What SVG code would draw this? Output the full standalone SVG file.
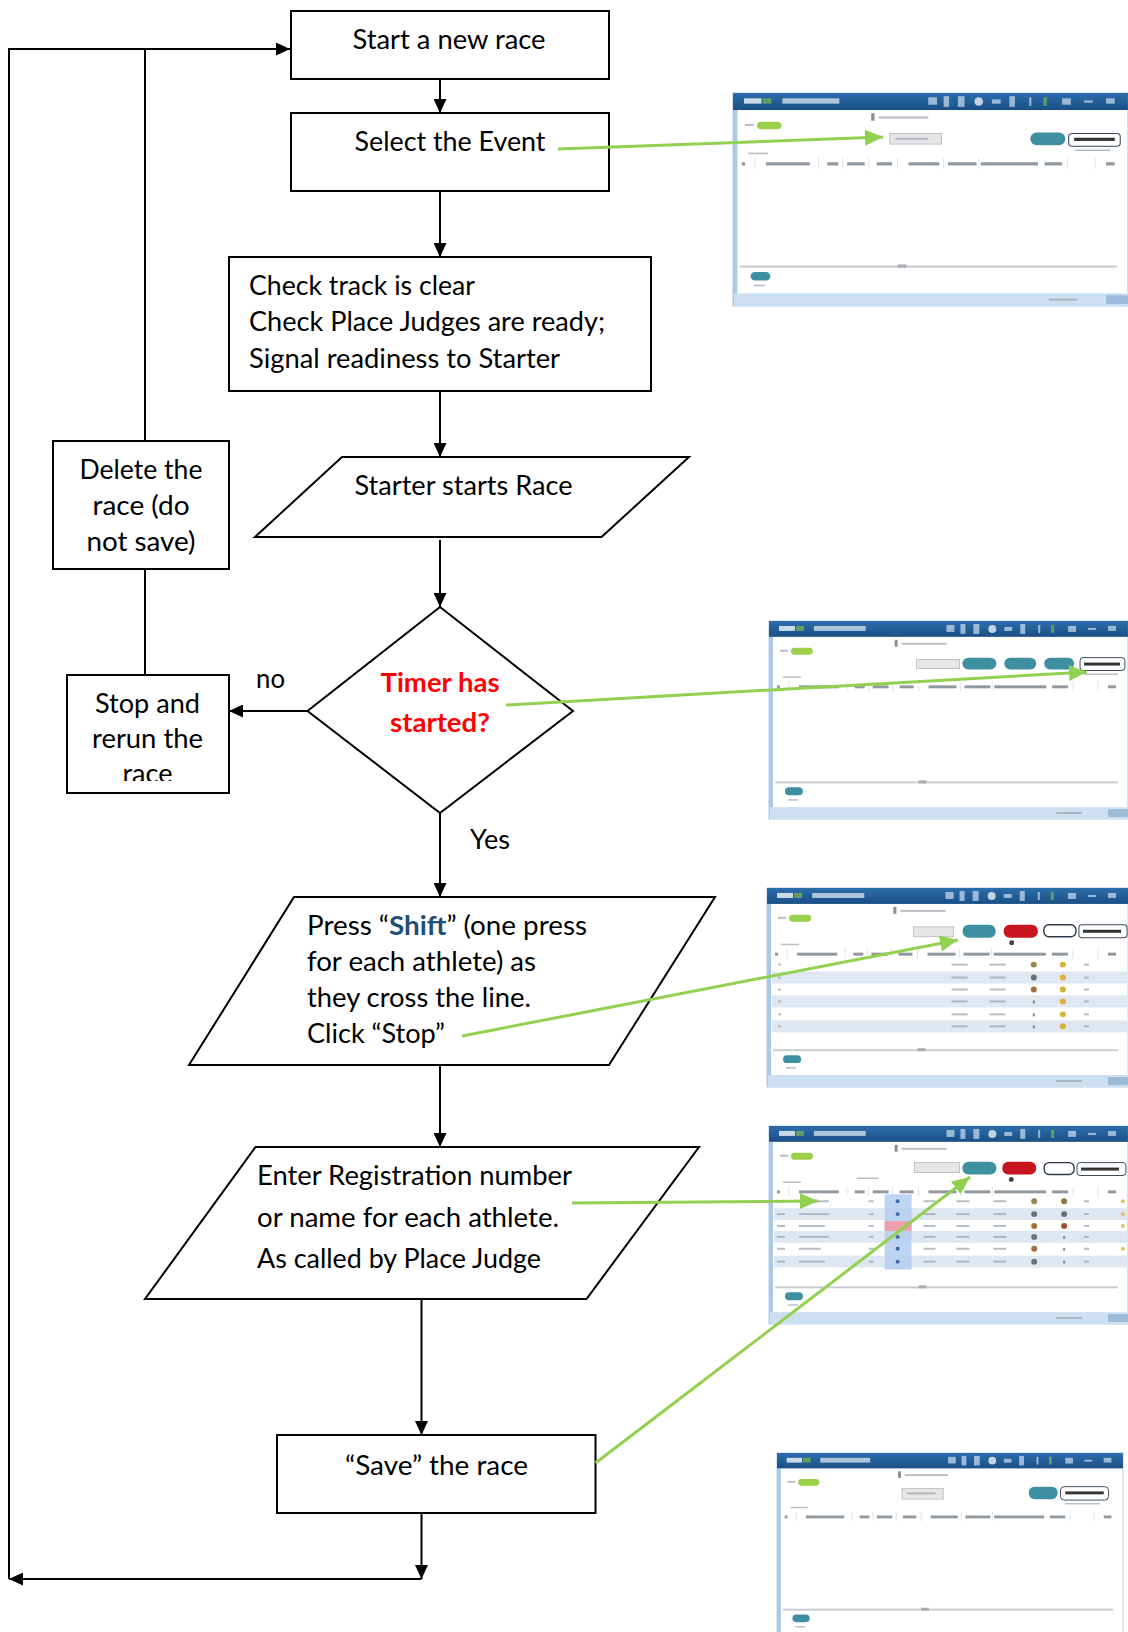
<svg xmlns="http://www.w3.org/2000/svg" width="1128" height="1632" viewBox="0 0 1128 1632">
<defs>
<style>
.t{font-family:Lato,"Liberation Sans",sans-serif;font-size:26px;fill:#000}
.c{text-anchor:middle}
.box{fill:#fff;stroke:#000;stroke-width:2}
.ln{fill:none;stroke:#000;stroke-width:2}
.gl{fill:none;stroke:#92d050;stroke-width:3}
.win{fill:#fff;stroke:#b8cfe6;stroke-width:1}
.strip{fill:#a9c9ea}
.tb{fill:url(#tbg)}
.tbl{fill:#dbe7f4;opacity:.75}
.ico{fill:#cfe0f2;opacity:.7}
.pill{fill:#9bd04b}
.blob{fill:#9aa3ad;opacity:.7}
.hb{fill:#6b7580;opacity:.75}
.dd{fill:#e6e6e6;stroke:#b9b9b9;stroke-width:.8}
.btn{fill:#3f8fa2}
.btnr{fill:#c8141c}
.btno{fill:#fff;stroke:#2d3a48;stroke-width:1.4}
.tim{fill:#fff;stroke:#3b4a5a;stroke-width:1}
.row{fill:#dfe7f3}
.sep{stroke:#d8dde3;stroke-width:.8}
.scr{fill:#c9cdd2}
.stat{fill:#cde0f2}
</style>
<linearGradient id="tbg" x1="0" y1="0" x2="0" y2="1">
<stop offset="0" stop-color="#2c6eab"/>
<stop offset="1" stop-color="#1a4f86"/>
</linearGradient>
<marker id="ab" markerUnits="userSpaceOnUse" markerWidth="15" markerHeight="13" refX="14" refY="6.5" orient="auto">
<path d="M0,0 L14,6.5 L0,13 z" fill="#000"/>
</marker>
<marker id="ag" markerUnits="userSpaceOnUse" markerWidth="19" markerHeight="16" refX="18" refY="8" orient="auto">
<path d="M0,0 L18,8 L0,16 z" fill="#92d050"/>
</marker>
<clipPath id="stopclip"><rect x="67" y="675" width="162" height="106"/></clipPath>
<g id="wbase">
<rect class="win" x="0" y="0" width="360" height="200"/>
<rect class="strip" x="0" y="16" width="4" height="184"/>
<rect class="tb" x="0" y="0" width="360" height="16"/>
<rect x="10" y="5" width="16" height="5" fill="#e8f0f8" opacity=".85"/>
<rect x="27" y="5" width="8" height="5" fill="#8dc63f" opacity=".6"/>
<rect class="tbl" x="45" y="5" width="52" height="5"/>
<rect class="ico" x="178" y="4" width="8" height="7"/>
<rect class="ico" x="192" y="3" width="5" height="10"/>
<rect class="ico" x="205" y="3" width="6" height="10"/>
<circle cx="224" cy="8" r="4" fill="#e8f0f8" opacity=".8"/>
<rect class="ico" x="236" y="6" width="8" height="4"/>
<rect class="ico" x="252" y="3" width="5" height="10"/>
<rect class="ico" x="270" y="4" width="2" height="8"/>
<rect x="283" y="4" width="3" height="8" fill="#8dc63f" opacity=".6"/>
<rect class="ico" x="300" y="5" width="8" height="6"/>
<rect class="ico" x="320" y="7" width="8" height="2"/>
<rect class="ico" x="340" y="5" width="8" height="5"/>
<rect class="blob" x="11" y="29" width="8" height="2"/>
<rect class="pill" x="22" y="27" width="22" height="7" rx="3.5"/>
<rect x="126" y="19" width="3" height="7" fill="#8a8f96"/>
<rect class="blob" x="133" y="22" width="45" height="2"/>
<rect class="blob" x="14" y="56" width="18" height="1.5"/>
<rect class="hb" x="8" y="65" width="3" height="3"/>
<rect class="hb" x="30" y="65" width="40" height="3"/>
<rect class="hb" x="86" y="65" width="10" height="3"/>
<rect class="hb" x="104" y="65" width="16" height="3"/>
<rect class="hb" x="131" y="65" width="14" height="3"/>
<rect class="hb" x="160" y="65" width="28" height="3"/>
<rect class="hb" x="196" y="65" width="26" height="3"/>
<rect class="hb" x="226" y="65" width="52" height="3"/>
<rect class="hb" x="284" y="65" width="16" height="3"/>
<rect class="hb" x="340" y="65" width="8" height="3"/>
<line class="sep" x1="20" y1="61" x2="20" y2="71"/>
<line class="sep" x1="78" y1="61" x2="78" y2="71"/>
<line class="sep" x1="100" y1="61" x2="100" y2="71"/>
<line class="sep" x1="124" y1="61" x2="124" y2="71"/>
<line class="sep" x1="150" y1="61" x2="150" y2="71"/>
<line class="sep" x1="192" y1="61" x2="192" y2="71"/>
<line class="sep" x1="224" y1="61" x2="224" y2="71"/>
<line class="sep" x1="305" y1="61" x2="305" y2="71"/>
<line class="sep" x1="330" y1="61" x2="330" y2="71"/>
<rect class="scr" x="6" y="162" width="344" height="2"/>
<rect x="150" y="161" width="8" height="3" fill="#a8adb3"/>
<rect class="btn" x="16" y="168" width="18" height="8" rx="4"/>
<rect class="blob" x="19" y="180" width="10" height="1.5"/>
<rect class="stat" x="1" y="188" width="358" height="12"/>
<rect class="blob" x="288" y="193" width="26" height="2"/>
<rect x="340" y="190" width="20" height="8" fill="#9bbbd8"/>
</g>
</defs>

<g id="shot1" transform="translate(733,93) scale(1.097,1.065)">
<use href="#wbase"/>
<rect class="dd" x="143" y="38" width="47" height="10"/>
<rect class="blob" x="148" y="42" width="30" height="2"/>
<rect class="btn" x="271" y="37" width="32" height="12" rx="6"/>
<rect class="tim" x="306" y="38" width="47" height="12" rx="3"/>
<rect fill="#333" x="311" y="42" width="37" height="3"/>
<rect class="blob" x="312" y="53" width="32" height="1.5"/>
</g>

<g id="shot2" transform="translate(769,621) scale(0.997,0.99)">
<use href="#wbase"/>
<rect class="dd" x="148" y="39" width="43" height="9"/>
<rect class="btn" x="194" y="37" width="34" height="12" rx="6"/>
<rect class="btn" x="236" y="37" width="32" height="12" rx="6"/>
<rect class="btn" x="276" y="37" width="30" height="12" rx="6"/>
<rect class="tim" x="312" y="37" width="45" height="13" rx="3"/>
<rect fill="#333" x="316" y="42" width="36" height="3"/>
<rect class="blob" x="316" y="53" width="34" height="1.5"/>
</g>

<g id="shot3" transform="translate(767,888) scale(1.003,0.995)">
<use href="#wbase"/>
<rect class="dd" x="146" y="39" width="40" height="10"/>
<rect class="btn" x="195" y="37" width="33" height="13" rx="6"/>
<rect class="btnr" x="236" y="37" width="34" height="13" rx="6"/>
<rect class="btno" x="276" y="37" width="32" height="12" rx="5"/>
<rect class="tim" x="311" y="37" width="48" height="13" rx="3"/>
<rect fill="#333" x="315" y="42" width="38" height="3"/>
<circle cx="244" cy="55" r="2.5" fill="#444"/>
<rect class="row" x="5" y="84" width="354" height="12"/>
<rect class="row" x="5" y="108" width="354" height="12"/>
<rect class="row" x="5" y="133" width="354" height="12"/>
<g class="blob">
<rect x="11" y="76" width="3" height="2"/><rect x="11" y="89" width="3" height="2"/><rect x="11" y="101" width="3" height="2"/><rect x="11" y="113" width="3" height="2"/><rect x="11" y="126" width="3" height="2"/><rect x="11" y="138" width="3" height="2"/>
<rect x="184" y="76" width="16" height="2"/><rect x="184" y="89" width="16" height="2"/><rect x="184" y="101" width="16" height="2"/><rect x="184" y="113" width="16" height="2"/><rect x="184" y="126" width="16" height="2"/><rect x="184" y="138" width="16" height="2"/>
<rect x="222" y="76" width="16" height="2"/><rect x="222" y="89" width="16" height="2"/><rect x="222" y="101" width="16" height="2"/><rect x="222" y="113" width="16" height="2"/><rect x="222" y="126" width="16" height="2"/><rect x="222" y="138" width="16" height="2"/>
<rect x="316" y="76" width="5" height="2"/><rect x="316" y="89" width="5" height="2"/><rect x="316" y="101" width="5" height="2"/><rect x="316" y="113" width="5" height="2"/><rect x="316" y="126" width="5" height="2"/><rect x="316" y="138" width="5" height="2"/>
</g>
<circle cx="266" cy="77" r="3" fill="#9b8648"/><circle cx="266" cy="90" r="3" fill="#6f6f6f"/><circle cx="266" cy="102" r="3" fill="#a0703a"/>
<rect x="265" y="113" width="2" height="3" fill="#888"/><rect x="265" y="126" width="2" height="3" fill="#888"/><rect x="265" y="138" width="2" height="3" fill="#888"/>
<circle cx="295" cy="77" r="3" fill="#d6b13a"/><circle cx="295" cy="90" r="3" fill="#d6b13a"/><circle cx="295" cy="102" r="3" fill="#d6b13a"/><circle cx="295" cy="114" r="3" fill="#d6b13a"/><circle cx="295" cy="127" r="3" fill="#d6b13a"/><circle cx="295" cy="139" r="3" fill="#d6b13a"/>
</g>

<g id="shot4" transform="translate(769,1126) scale(0.997,0.99)">
<use href="#wbase"/>
<rect class="dd" x="146" y="37" width="45" height="10"/>
<rect class="btn" x="194" y="36" width="34" height="13" rx="6"/>
<rect class="btnr" x="234" y="36" width="34" height="13" rx="6"/>
<rect class="btno" x="276" y="37" width="30" height="12" rx="5"/>
<rect class="tim" x="309" y="37" width="49" height="13" rx="3"/>
<rect fill="#333" x="313" y="42" width="38" height="3"/>
<circle cx="243" cy="54" r="2.5" fill="#444"/>
<rect class="blob" x="88" y="52" width="22" height="1.5"/>
<rect class="row" x="5" y="83" width="354" height="12"/>
<rect class="row" x="5" y="106" width="354" height="12"/>
<rect class="row" x="5" y="131" width="354" height="12"/>
<rect x="116" y="69" width="27" height="76" fill="#b4cdee" opacity=".85"/>
<rect x="116" y="96" width="27" height="10" fill="#f0a0a8"/>
<g class="blob">
<rect x="8" y="75" width="8" height="2"/><rect x="8" y="88" width="8" height="2"/><rect x="8" y="100" width="8" height="2"/><rect x="8" y="111" width="8" height="2"/><rect x="8" y="123" width="8" height="2"/><rect x="8" y="136" width="8" height="2"/>
<rect x="30" y="75" width="30" height="2"/><rect x="30" y="88" width="30" height="2"/><rect x="30" y="100" width="26" height="2"/><rect x="30" y="111" width="30" height="2"/><rect x="30" y="123" width="22" height="2"/><rect x="30" y="136" width="26" height="2"/>
<rect x="100" y="75" width="5" height="2"/><rect x="100" y="88" width="5" height="2"/><rect x="100" y="100" width="5" height="2"/><rect x="100" y="111" width="5" height="2"/><rect x="100" y="123" width="5" height="2"/><rect x="100" y="136" width="5" height="2"/>
<rect x="155" y="75" width="12" height="2"/><rect x="155" y="88" width="12" height="2"/><rect x="155" y="100" width="12" height="2"/><rect x="155" y="111" width="12" height="2"/><rect x="155" y="123" width="12" height="2"/><rect x="155" y="136" width="12" height="2"/>
<rect x="188" y="75" width="13" height="2"/><rect x="188" y="88" width="13" height="2"/><rect x="188" y="100" width="13" height="2"/><rect x="188" y="111" width="13" height="2"/><rect x="188" y="123" width="13" height="2"/><rect x="188" y="136" width="13" height="2"/>
<rect x="225" y="75" width="13" height="2"/><rect x="225" y="88" width="13" height="2"/><rect x="225" y="100" width="13" height="2"/><rect x="225" y="111" width="13" height="2"/><rect x="225" y="123" width="13" height="2"/><rect x="225" y="136" width="13" height="2"/>
<rect x="316" y="75" width="5" height="2"/><rect x="316" y="88" width="5" height="2"/><rect x="316" y="100" width="5" height="2"/><rect x="316" y="111" width="5" height="2"/><rect x="316" y="123" width="5" height="2"/><rect x="316" y="136" width="5" height="2"/>
</g>
<circle cx="129" cy="76" r="2" fill="#3b66a8"/><circle cx="129" cy="89" r="2" fill="#3b66a8"/><circle cx="129" cy="112" r="2" fill="#3b66a8"/><circle cx="129" cy="124" r="2" fill="#3b66a8"/><circle cx="129" cy="137" r="2" fill="#3b66a8"/>
<circle cx="266" cy="76" r="3" fill="#9b8648"/><circle cx="266" cy="89" r="3" fill="#6f6f6f"/><circle cx="266" cy="101" r="3" fill="#a0703a"/><circle cx="266" cy="112" r="3" fill="#6f6f6f"/><circle cx="266" cy="124" r="3" fill="#a0703a"/><circle cx="266" cy="137" r="3" fill="#6f6f6f"/>
<circle cx="296" cy="76" r="3" fill="#8a7a40"/><circle cx="296" cy="89" r="3" fill="#6f6f6f"/><circle cx="296" cy="101" r="3" fill="#a0502a"/>
<rect x="295" y="111" width="2" height="3" fill="#888"/><rect x="295" y="123" width="2" height="3" fill="#888"/><rect x="295" y="136" width="2" height="3" fill="#888"/>
<circle cx="355" cy="76" r="2" fill="#e8c060"/><circle cx="355" cy="89" r="2" fill="#e8c060"/><circle cx="355" cy="101" r="2" fill="#e8c060"/><circle cx="355" cy="124" r="2" fill="#e8c060"/>
</g>

<g id="shot5" transform="translate(777,1453) scale(0.961,0.961)">
<use href="#wbase"/>
<rect class="dd" x="130" y="37" width="43" height="11"/>
<rect class="blob" x="135" y="41" width="30" height="2"/>
<rect class="btn" x="262" y="35" width="30" height="13" rx="6"/>
<rect class="tim" x="295" y="35" width="50" height="14" rx="4"/>
<rect fill="#333" x="300" y="40" width="40" height="3"/>
<rect class="blob" x="300" y="52" width="36" height="1.5"/>
</g>

<g id="connectors">
<polyline class="ln" points="9,1579 9,49 290,49" marker-end="url(#ab)" stroke-width="2.5"/>
<line class="ln" x1="145" y1="49" x2="145" y2="441"/>
<line class="ln" x1="145" y1="569" x2="145" y2="675" stroke-width="1.5"/>
<line class="ln" x1="440" y1="79" x2="440" y2="113" marker-end="url(#ab)"/>
<line class="ln" x1="440" y1="191" x2="440" y2="257" marker-end="url(#ab)"/>
<line class="ln" x1="440" y1="391" x2="440" y2="457" marker-end="url(#ab)"/>
<line class="ln" x1="440" y1="540" x2="440" y2="607" marker-end="url(#ab)"/>
<line class="ln" x1="307" y1="711" x2="229" y2="711" marker-end="url(#ab)" stroke-width="2.5"/>
<line class="ln" x1="440" y1="813" x2="440" y2="897" marker-end="url(#ab)"/>
<line class="ln" x1="440" y1="1065" x2="440" y2="1147" marker-end="url(#ab)"/>
<line class="ln" x1="421.5" y1="1299" x2="421.5" y2="1435" marker-end="url(#ab)"/>
<line class="ln" x1="421.5" y1="1513" x2="421.5" y2="1579" marker-end="url(#ab)"/>
<line class="ln" x1="421.5" y1="1579" x2="9" y2="1579" marker-end="url(#ab)" stroke-width="2.5"/>
</g>

<g id="n-start">
<rect class="box" x="291" y="11" width="318" height="68"/>
<text class="t c" x="449" y="49" textLength="193" lengthAdjust="spacingAndGlyphs">Start a new race</text>
</g>
<g id="n-select">
<rect class="box" x="291" y="113" width="318" height="78"/>
<text class="t c" x="450" y="151" textLength="191" lengthAdjust="spacingAndGlyphs">Select the Event</text>
</g>
<g id="n-check">
<rect class="box" x="229" y="257" width="422" height="134"/>
<text class="t" x="249" y="295" textLength="226" lengthAdjust="spacingAndGlyphs">Check track is clear</text>
<text class="t" x="249" y="331" textLength="356" lengthAdjust="spacingAndGlyphs">Check Place Judges are ready;</text>
<text class="t" x="249" y="368" textLength="311" lengthAdjust="spacingAndGlyphs">Signal readiness to Starter</text>
</g>
<g id="n-starter">
<polygon class="box" points="342,457 689,457 601.5,537 255,537"/>
<text class="t c" x="463.5" y="495" textLength="218" lengthAdjust="spacingAndGlyphs">Starter starts Race</text>
</g>
<g id="n-timer">
<polygon class="box" points="440,607 573,711 440,813 307.5,711"/>
<text class="t c" x="440" y="692" font-weight="bold" style="fill:#ff0000" textLength="119" lengthAdjust="spacingAndGlyphs">Timer has</text>
<text class="t c" x="440" y="732" font-weight="bold" style="fill:#ff0000" textLength="100" lengthAdjust="spacingAndGlyphs">started?</text>
</g>
<g id="n-delete">
<rect class="box" x="53" y="441" width="176" height="128"/>
<text class="t c" x="141" y="479" textLength="123" lengthAdjust="spacingAndGlyphs">Delete the</text>
<text class="t c" x="141" y="515" textLength="97" lengthAdjust="spacingAndGlyphs">race (do</text>
<text class="t c" x="141" y="551" textLength="109" lengthAdjust="spacingAndGlyphs">not save)</text>
</g>
<g id="n-stop">
<rect class="box" x="67" y="675" width="162" height="118"/>
<g clip-path="url(#stopclip)">
<text class="t c" x="147.5" y="713" textLength="105" lengthAdjust="spacingAndGlyphs">Stop and</text>
<text class="t c" x="147.5" y="748" textLength="111" lengthAdjust="spacingAndGlyphs">rerun the</text>
<text class="t c" x="147.5" y="783" textLength="50" lengthAdjust="spacingAndGlyphs">race</text>
</g>
</g>
<g id="labels">
<text class="t" x="256" y="688" textLength="29" lengthAdjust="spacingAndGlyphs">no</text>
<text class="t" x="470" y="849" textLength="40" lengthAdjust="spacingAndGlyphs">Yes</text>
</g>
<g id="n-press">
<polygon class="box" points="294,897 715,897 609,1065 189,1065"/>
<text class="t" x="307" y="935" textLength="280" lengthAdjust="spacingAndGlyphs">Press “<tspan font-weight="bold" style="fill:#1f4e79">Shift</tspan>” (one press</text>
<text class="t" x="307" y="971" textLength="229" lengthAdjust="spacingAndGlyphs">for each athlete) as</text>
<text class="t" x="307" y="1007" textLength="224" lengthAdjust="spacingAndGlyphs">they cross the line.</text>
<text class="t" x="307" y="1043" textLength="138" lengthAdjust="spacingAndGlyphs">Click “Stop”</text>
</g>
<g id="n-enter">
<polygon class="box" points="255.5,1147 699,1147 586.5,1299 145,1299"/>
<text class="t" x="257" y="1185" textLength="315" lengthAdjust="spacingAndGlyphs">Enter Registration number</text>
<text class="t" x="257" y="1227" textLength="302" lengthAdjust="spacingAndGlyphs">or name for each athlete.</text>
<text class="t" x="257" y="1268" textLength="284" lengthAdjust="spacingAndGlyphs">As called by Place Judge</text>
</g>
<g id="n-save">
<rect class="box" x="277" y="1435" width="318.5" height="78"/>
<text class="t c" x="436.5" y="1475" textLength="183" lengthAdjust="spacingAndGlyphs">“Save” the race</text>
</g>

<g id="callouts">
<line class="gl" x1="558" y1="149" x2="883" y2="137" marker-end="url(#ag)"/>
<line class="gl" x1="506" y1="705" x2="1087" y2="672" marker-end="url(#ag)"/>
<line class="gl" x1="462" y1="1036" x2="958" y2="940" marker-end="url(#ag)"/>
<line class="gl" x1="572" y1="1203" x2="818" y2="1201" marker-end="url(#ag)"/>
<line class="gl" x1="595.5" y1="1463" x2="970" y2="1177" marker-end="url(#ag)"/>
</g>
</svg>
